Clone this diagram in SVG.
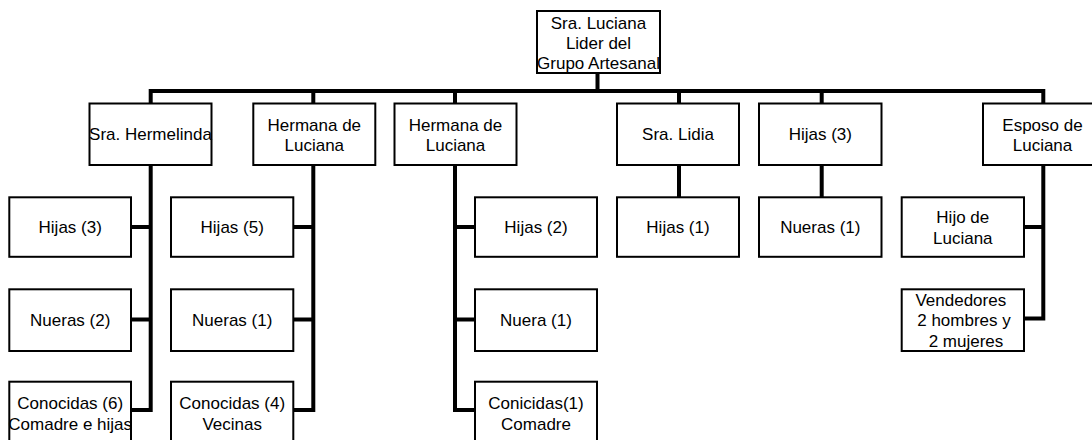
<svg xmlns="http://www.w3.org/2000/svg" width="1092" height="440" viewBox="0 0 1092 440">
<style>
.box{fill:#fff;stroke:#000;stroke-width:2}
.t{font-family:"Liberation Sans",Arial,sans-serif;font-size:17px;fill:#000;text-anchor:middle}
.c{fill:none;stroke:#000;stroke-width:4;stroke-linejoin:miter;stroke-linecap:butt}
</style>
<rect width="1092" height="440" fill="#fff"/>
<g id="connectors">
<path class="c" d="M597.5,73 V91 M148.7,91 H1045.3 M150.7,91 V104 M313.3,91 V104 M455,91 V104 M679,91 V104 M821.7,91 V104 M1043.3,91 V104"/>
<path class="c" d="M131,410 H150.7 V165 M131,227 H150.7 M131,319.5 H150.7"/>
<path class="c" d="M293.3,410 H313.3 V165 M293.3,227 H313.3 M293.3,319.5 H313.3"/>
<path class="c" d="M475,410 H455 V165 M475,227 H455 M475,319.5 H455"/>
<path class="c" d="M679,165 V197 M821.7,165 V197"/>
<path class="c" d="M1024,318.5 H1043.3 V165 M1024,227 H1043.3"/>
</g>
<g id="n-luciana"><rect class="box" x="537" y="11" width="123" height="62"/><text class="t" x="598.5" y="28.5">Sra. Luciana</text><text class="t" x="598.5" y="48.5">Lider del</text><text class="t" x="598.5" y="68.5">Grupo Artesanal</text></g>
<g id="n-hermelinda"><rect class="box" x="89.5" y="103.5" width="122" height="61.5"/><text class="t" x="150.5" y="140">Sra. Hermelinda</text></g>
<g id="n-hermana1"><rect class="box" x="253.3" y="103.5" width="122" height="61.5"/><text class="t" x="314.3" y="130.5">Hermana de</text><text class="t" x="314.3" y="151">Luciana</text></g>
<g id="n-hermana2"><rect class="box" x="394.5" y="103.5" width="122" height="61.5"/><text class="t" x="455.5" y="130.5">Hermana de</text><text class="t" x="455.5" y="151">Luciana</text></g>
<g id="n-lidia"><rect class="box" x="617" y="103.5" width="122" height="61.5"/><text class="t" x="678" y="140">Sra. Lidia</text></g>
<g id="n-hijas3top"><rect class="box" x="759" y="103.5" width="122.5" height="61.5"/><text class="t" x="820.3" y="140">Hijas (3)</text></g>
<g id="n-esposo"><rect class="box" x="983" y="103.5" width="123" height="61.5"/><text class="t" x="1042.5" y="130.5">Esposo de</text><text class="t" x="1042.5" y="151">Luciana</text></g>
<g id="n-h-hijas3"><rect class="box" x="9.3" y="197.3" width="121.7" height="59.5"/><text class="t" x="70.2" y="233">Hijas (3)</text></g>
<g id="n-h-nueras2"><rect class="box" x="9.3" y="289.3" width="121.7" height="61.7"/><text class="t" x="70.2" y="326">Nueras (2)</text></g>
<g id="n-h-conocidas6"><rect class="box" x="9.3" y="381.7" width="121.7" height="61.5"/><text class="t" x="70.2" y="409">Conocidas (6)</text><text class="t" x="70.2" y="429.5">Comadre e hijas</text></g>
<g id="n-a-hijas5"><rect class="box" x="171" y="197.3" width="122.3" height="59.5"/><text class="t" x="232.2" y="233">Hijas (5)</text></g>
<g id="n-a-nueras1"><rect class="box" x="171" y="289.3" width="122.3" height="61.7"/><text class="t" x="232.2" y="326">Nueras (1)</text></g>
<g id="n-a-conocidas4"><rect class="box" x="171" y="381.7" width="122.3" height="61.5"/><text class="t" x="232.2" y="409">Conocidas (4)</text><text class="t" x="232.2" y="429.5">Vecinas</text></g>
<g id="n-b-hijas2"><rect class="box" x="475" y="197.3" width="122" height="59.5"/><text class="t" x="536" y="233">Hijas (2)</text></g>
<g id="n-b-nuera1"><rect class="box" x="475" y="289.3" width="122" height="61.7"/><text class="t" x="536" y="326">Nuera (1)</text></g>
<g id="n-b-conicidas1"><rect class="box" x="475" y="381.7" width="122" height="61.5"/><text class="t" x="536" y="409">Conicidas(1)</text><text class="t" x="536" y="429.5">Comadre</text></g>
<g id="n-l-hijas1"><rect class="box" x="617" y="197.3" width="122" height="59.5"/><text class="t" x="678" y="233">Hijas (1)</text></g>
<g id="n-n-nueras1"><rect class="box" x="759" y="197.3" width="122.5" height="59.5"/><text class="t" x="820.3" y="233">Nueras (1)</text></g>
<g id="n-hijo"><rect class="box" x="901.7" y="197.3" width="122.3" height="59.5"/><text class="t" x="962.8" y="223">Hijo de</text><text class="t" x="962.8" y="243.5">Luciana</text></g>
<g id="n-vendedores"><rect class="box" x="901.7" y="289.3" width="122.3" height="61.7"/><text class="t" x="960.8" y="305.5">Vendedores</text><text class="t" x="964" y="326">2 hombres y</text><text class="t" x="966" y="346.5">2 mujeres</text></g>
</svg>
